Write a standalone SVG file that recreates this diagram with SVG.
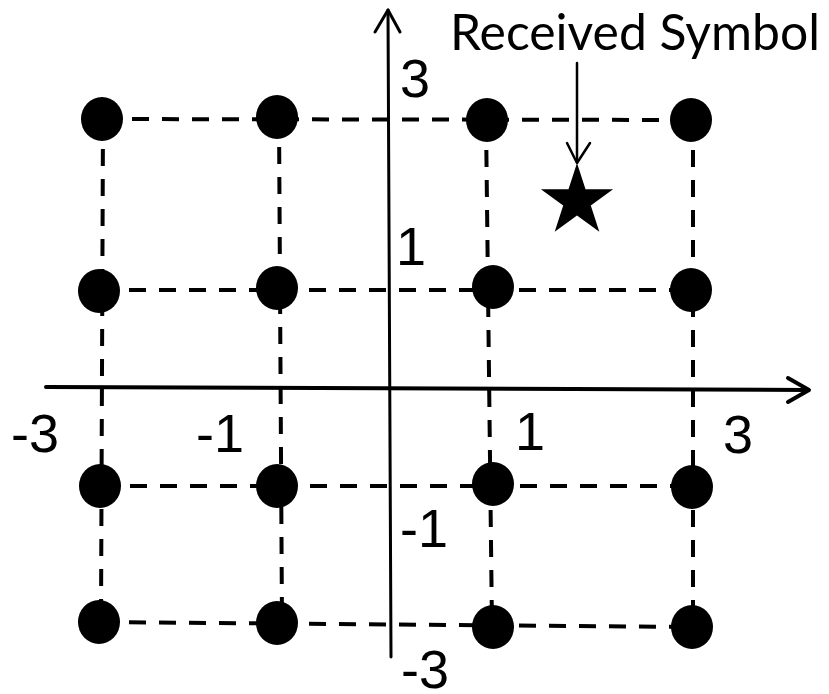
<svg xmlns="http://www.w3.org/2000/svg" width="829" height="694" viewBox="0 0 829 694">
<style>
.grid{stroke:#000;stroke-width:4;stroke-dasharray:17 13;fill:none}
.axis{stroke:#000;fill:none;stroke-linecap:round;stroke-linejoin:round}
.dot{fill:#000}
.lbl{font-family:"Liberation Sans",Arial,sans-serif;font-size:54px;fill:#000}
.title{font-family:Lato,"Open Sans",sans-serif;font-size:50px;fill:#000}
</style>
<rect width="829" height="694" fill="#fff"/>
<g id="connectors">
<line class="grid" x1="102" y1="119" x2="691" y2="120"/>
<line class="grid" x1="99" y1="290" x2="691" y2="290"/>
<line class="grid" x1="100" y1="486" x2="692" y2="486"/>
<line class="grid" x1="99" y1="622" x2="692" y2="627"/>
<line class="grid" x1="103" y1="119" x2="101" y2="622"/>
<line class="grid" x1="279" y1="117" x2="282" y2="623"/>
<line class="grid" x1="486" y1="120" x2="492" y2="627"/>
<line class="grid" x1="693" y1="120" x2="693" y2="627"/>
<line class="axis" x1="46" y1="387" x2="808" y2="390" stroke-width="4"/>
<polyline class="axis" points="788,378 809,390 788,402" stroke-width="4"/>
<line class="axis" x1="388" y1="10" x2="391" y2="657" stroke-width="3"/>
<polyline class="axis" points="375,32 388,10 400,32" stroke-width="3"/>
<line class="axis" x1="577" y1="63" x2="577" y2="162" stroke-width="2.5"/>
<polyline class="axis" points="567,143 577,163 590,143" stroke-width="2.5"/>
</g>
<g id="points">
<ellipse class="dot" cx="102" cy="119" rx="21" ry="22"/>
<ellipse class="dot" cx="277" cy="117" rx="21" ry="22"/>
<ellipse class="dot" cx="487" cy="120" rx="21" ry="22"/>
<ellipse class="dot" cx="691" cy="120" rx="21" ry="22"/>
<ellipse class="dot" cx="99" cy="291" rx="21" ry="22"/>
<ellipse class="dot" cx="277" cy="288" rx="21" ry="22"/>
<ellipse class="dot" cx="493" cy="287" rx="21" ry="22"/>
<ellipse class="dot" cx="691" cy="290" rx="21" ry="22"/>
<ellipse class="dot" cx="100" cy="486" rx="21" ry="22"/>
<ellipse class="dot" cx="277" cy="486" rx="21" ry="22"/>
<ellipse class="dot" cx="493" cy="484" rx="21" ry="22"/>
<ellipse class="dot" cx="692" cy="487" rx="21" ry="22"/>
<ellipse class="dot" cx="99" cy="622" rx="21" ry="22"/>
<ellipse class="dot" cx="277" cy="623" rx="21" ry="22"/>
<ellipse class="dot" cx="493" cy="627" rx="21" ry="22"/>
<ellipse class="dot" cx="692" cy="627" rx="21" ry="22"/>
</g>
<g id="received-symbol">
<polygon class="dot" points="577,163 585.5,189.3 613.1,189.3 590.8,205.5 599.3,231.7 577,215.5 554.7,231.7 563.2,205.5 540.9,189.3 568.5,189.3"/>
<text class="title" x="450" y="50" textLength="370" lengthAdjust="spacingAndGlyphs">Received Symbol</text>
</g>
<g id="labels">
<text class="lbl" x="400" y="97">3</text>
<text class="lbl" x="396" y="265">1</text>
<text class="lbl" x="11" y="452">-3</text>
<text class="lbl" x="196" y="452">-1</text>
<text class="lbl" x="515" y="450">1</text>
<text class="lbl" x="723" y="453">3</text>
<text class="lbl" x="400" y="547">-1</text>
<text class="lbl" x="401" y="688">-3</text>
</g>
</svg>
